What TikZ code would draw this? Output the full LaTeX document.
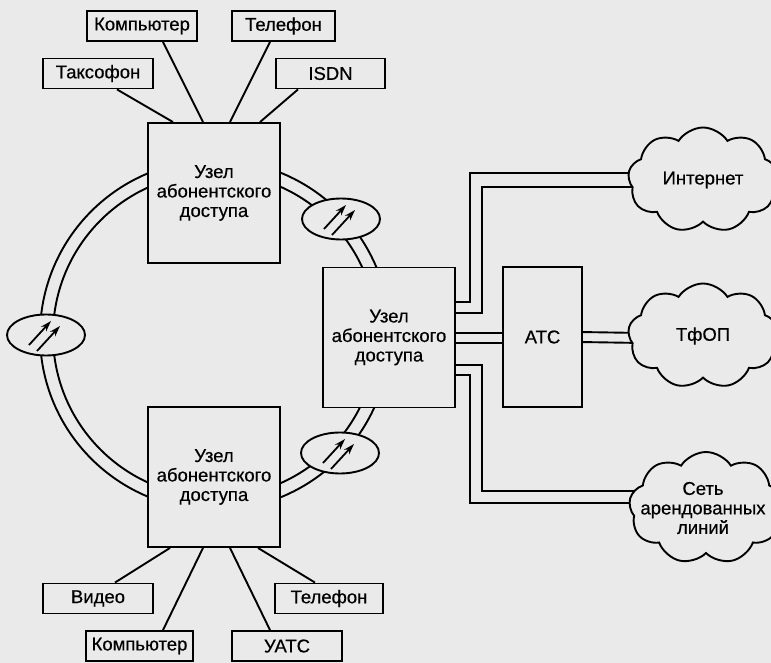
\documentclass[tikz,border=0pt]{standalone}
\usepackage{fontspec}
\setmainfont{Liberation Sans}
\newfontface\dface{Liberation Sans}[FakeBold=0.5]
\usetikzlibrary{shapes.geometric,shapes.symbols,arrows.meta,calc}
\definecolor{bg}{RGB}{234,234,234}
\newcommand\dfont{\dface\fontsize{18.5}{19.5}\selectfont}
\begin{document}
\begin{tikzpicture}[x=1pt,y=-1pt,line width=1.9pt,
  every node/.style={font=\dfont},
  leaf/.style={draw,fill=bg,minimum height=30pt,inner sep=0pt},
  unit/.style={draw,fill=bg,minimum width=132pt,minimum height=140pt,align=center,inner sep=0pt},
  ell/.style={ellipse,draw,fill=bg,minimum width=78pt,minimum height=41pt,inner sep=0pt},
  arr/.style={-{Stealth[length=11pt,width=7pt]},line width=1.8pt},
  net/.style={cloud,cloud puffs=9,cloud puff arc=115,aspect=1.45,draw,fill=bg,inner sep=0pt,minimum width=150pt,minimum height=105pt},
  lbl/.style={align=center,inner sep=0pt}]
\fill[bg] (0,0) rectangle (771,663);
\useasboundingbox (0,0) rectangle (771,663);
% ring
\coordinate (rc) at (215,335);
\draw (rc) circle[radius=175pt];
\draw (rc) circle[radius=162pt];
% units
\node[unit] (n1) at (214,193) {Узел\\абонентского\\доступа};
\node[unit] (mid) at (389,337.5) {Узел\\абонентского\\доступа};
\node[unit] (n3) at (214,477) {Узел\\абонентского\\доступа};
% ellipses
\node[ell] (e1) at (46,335) {};
\node[ell] (e2) at (341,219) {};
\node[ell] (e3) at (340,453) {};
\foreach \e in {e1,e2,e3}{
  \draw[arr] ($(\e)+(-17,10)$) -- ($(\e)+(5,-14)$);
  \draw[arr] ($(\e)+(-9,16)$) -- ($(\e)+(14,-9)$);
}
% top leaves
\node[leaf,minimum width=110pt] (komp1) at (142,26) {Компьютер};
\node[leaf,minimum width=103pt] (tel1) at (283.5,26) {Телефон};
\node[leaf,minimum width=110pt] (tax) at (98,73.5) {Таксофон};
\node[leaf,minimum width=109pt] (isdn) at (330.5,73.5) {ISDN};
\draw ($(tax.south)+(19,0)$) -- ($(n1.north)+(-41,0)$);
\draw ($(komp1.south)+(21,0)$) -- ($(n1.north)+(-11,0)$);
\draw ($(tel1.south)+(-13.5,0)$) -- ($(n1.north)+(16,0)$);
\draw ($(isdn.south)+(-32.5,0)$) -- ($(n1.north)+(46,0)$);
% bottom leaves
\node[leaf,minimum width=110pt] (video) at (98,598.5) {Видео};
\node[leaf,minimum width=108pt] (tel2) at (329,598.5) {Телефон};
\node[leaf,minimum width=107pt] (komp2) at (139.5,646) {Компьютер};
\node[leaf,minimum width=110pt] (uats) at (287,646) {УАТС};
\draw ($(video.north)+(17,0)$) -- ($(n3.south)+(-44,0)$);
\draw ($(komp2.north)+(23.5,0)$) -- ($(n3.south)+(-11,0)$);
\draw ($(uats.north)+(-17,0)$) -- ($(n3.south)+(16,0)$);
\draw ($(tel2.north)+(-14,0)$) -- ($(n3.south)+(44,0)$);
% ATC
\node[draw,fill=bg,minimum width=79pt,minimum height=140pt,inner sep=0pt] (atc) at (542.5,337) {АТС};
% tracks
\draw ($(mid.north east)+(0,35)$) -| (470,173) -- (642,173);
\draw ($(mid.north east)+(0,46)$) -| (482,187) -- (642,187);
\draw ($(mid.north east)+(0,66)$) -- (atc.west |- {$(mid.north east)+(0,66)$});
\draw ($(mid.north east)+(0,76)$) -- (atc.west |- {$(mid.north east)+(0,76)$});
\draw ($(atc.north east)+(0,66)$) -- (642,333);
\draw ($(atc.north east)+(0,76)$) -- (642,343);
\draw ($(mid.north east)+(0,98)$) -| (482,491) -- (642,491);
\draw ($(mid.north east)+(0,108)$) -| (470,503) -- (642,503);
% clouds
\node[net] (inet) at (703,180) {};
\node[lbl] at (inet.center) {Интернет};
\node[net] (tfop) at (703,336) {};
\node[lbl] at (tfop.center) {ТфОП};
\node[net,minimum height=112pt,minimum width=154pt] (lease) at (706,508) {};
\node[lbl] at ($(lease.center)+(-3,0)$) {Сеть\\арендованных\\линий};
\end{tikzpicture}
\end{document}
